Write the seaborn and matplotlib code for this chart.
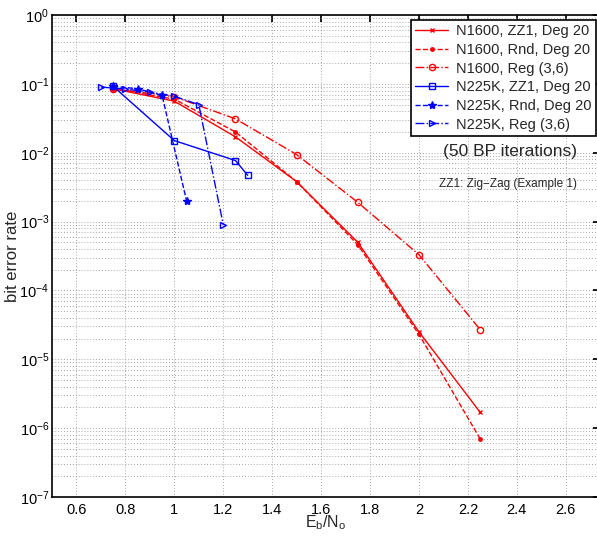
import numpy as np
import pandas as pd
import matplotlib
matplotlib.use("Agg")
import matplotlib.pyplot as plt
from matplotlib.ticker import LogLocator, NullFormatter
import seaborn as sns

# curves
ebno_1600 = [0.75, 1.0, 1.25, 1.5, 1.75, 2.0, 2.25]
ber_1600_zz1 = [0.085, 0.056, 0.017, 0.0038, 5.0e-4, 2.5e-5, 1.7e-6]
ber_1600_rnd = [0.085, 0.060, 0.020, 0.0038, 4.6e-4, 2.3e-5, 7.0e-7]
ber_1600_reg = [0.085, 0.065, 0.031, 0.0094, 0.0019, 3.3e-4, 2.7e-5]

ebno_225k_zz1 = [0.75, 1.0, 1.25, 1.3]
ber_225k_zz1 = [0.092, 0.015, 0.0077, 0.0047]

ebno_225k_rnd = [0.75, 0.85, 0.95, 1.05]
ber_225k_rnd = [0.092, 0.085, 0.068, 0.002]

ebno_225k_reg = [0.7, 0.8, 0.9, 1.0, 1.1, 1.2]
ber_225k_reg = [0.090, 0.084, 0.076, 0.066, 0.050, 9.0e-4]

xtick_vals = [0.6, 0.8, 1.0, 1.2, 1.4, 1.6, 1.8, 2.0, 2.2, 2.4, 2.6]
xtick_labels = ["0.6", "0.8", "1", "1.2", "1.4", "1.6", "1.8", "2", "2.2", "2.4", "2.6"]

series = [
    ("N1600, ZZ1, Deg 20", ebno_1600, ber_1600_zz1, "red", "-", "x", 3.5, True),
    ("N1600, Rnd, Deg 20", ebno_1600, ber_1600_rnd, "red", "--", "o", 2.5, True),
    ("N1600, Reg (3,6)", ebno_1600, ber_1600_reg, "red", "-.", "o", 4.5, False),
    ("N225K, ZZ1, Deg 20", ebno_225k_zz1, ber_225k_zz1, "blue", "-", "s", 4.5, False),
    ("N225K, Rnd, Deg 20", ebno_225k_rnd, ber_225k_rnd, "blue", "--", "*", 6, True),
    ("N225K, Reg (3,6)", ebno_225k_reg, ber_225k_reg, "blue", "-.", ">", 4.5, False),
]

sns.set_theme(style="white")
plt.rcParams["font.family"] = ["Liberation Sans", "DejaVu Sans"]
plt.rcParams["mathtext.fontset"] = "custom"
plt.rcParams["mathtext.rm"] = "Liberation Sans"
plt.rcParams["xtick.direction"] = "in"
plt.rcParams["ytick.direction"] = "in"

fig = plt.figure(figsize=(5.97, 5.36), dpi=100)
ax = fig.add_axes([52 / 597, 1 - 497 / 536, 548 / 597, 482 / 536])

for label, x, y, color, ls, marker, ms, filled in series:
    df = pd.DataFrame({"ebno": x, "ber": y})
    sns.lineplot(data=df, x="ebno", y="ber", ax=ax, color=color, linestyle=ls,
                 linewidth=1.0, marker=marker, markersize=ms,
                 markerfacecolor=color if filled else "none",
                 markeredgecolor=color, markeredgewidth=1.0,
                 label=label, estimator=None, sort=False)

ax.set_yscale("log")
ax.set_ylim(1e-7, 1)
ax.set_xlim(0.5, 2.74)
ax.set_xticks(xtick_vals)
ax.set_xticklabels(xtick_labels)
ax.yaxis.set_major_locator(LogLocator(base=10, numticks=10))
ax.yaxis.set_minor_locator(LogLocator(base=10, subs=np.arange(2, 10), numticks=100))
ax.yaxis.set_minor_formatter(NullFormatter())

grid_kw = dict(linestyle=(0, (1, 2.5)), color="#888888", linewidth=0.6)
ax.grid(True, which="major", axis="x", **grid_kw)
ax.grid(True, which="both", axis="y", **grid_kw)
ax.tick_params(which="both", top=True, right=True, labelsize=10.5, colors="black")
ax.tick_params(axis="x", pad=4)
ax.tick_params(axis="y", pad=2)
ax.tick_params(which="major", length=5)
ax.tick_params(which="minor", length=2.5)
for sp in ax.spines.values():
    sp.set_color("black")
    sp.set_linewidth(1.2)

ax.set_xlabel(r"E$_\mathrm{b}$/N$_\mathrm{o}$", fontsize=11.5)
ax.xaxis.set_label_coords(0.5, -0.034)
ax.set_ylabel("bit error rate", fontsize=12)
ax.yaxis.set_label_coords(-0.058, 0.5)

leg = ax.legend(loc="upper right", bbox_to_anchor=(0.992, 0.99), borderaxespad=0,
                fontsize=10.5, frameon=True, fancybox=False, edgecolor="black",
                framealpha=1, handlelength=2.3, handletextpad=0.5,
                labelspacing=0.32, borderpad=0.3)
leg.get_frame().set_linewidth(1.2)

ax.text(0.836, 0.716, "(50 BP iterations)", transform=ax.transAxes,
        ha="center", va="center", fontsize=12.5)
ax.text(0.832, 0.649, "ZZ1: Zig\u2212Zag (Example 1)", transform=ax.transAxes,
        ha="center", va="center", fontsize=8.5)

fig.savefig("out.png", dpi=100)
